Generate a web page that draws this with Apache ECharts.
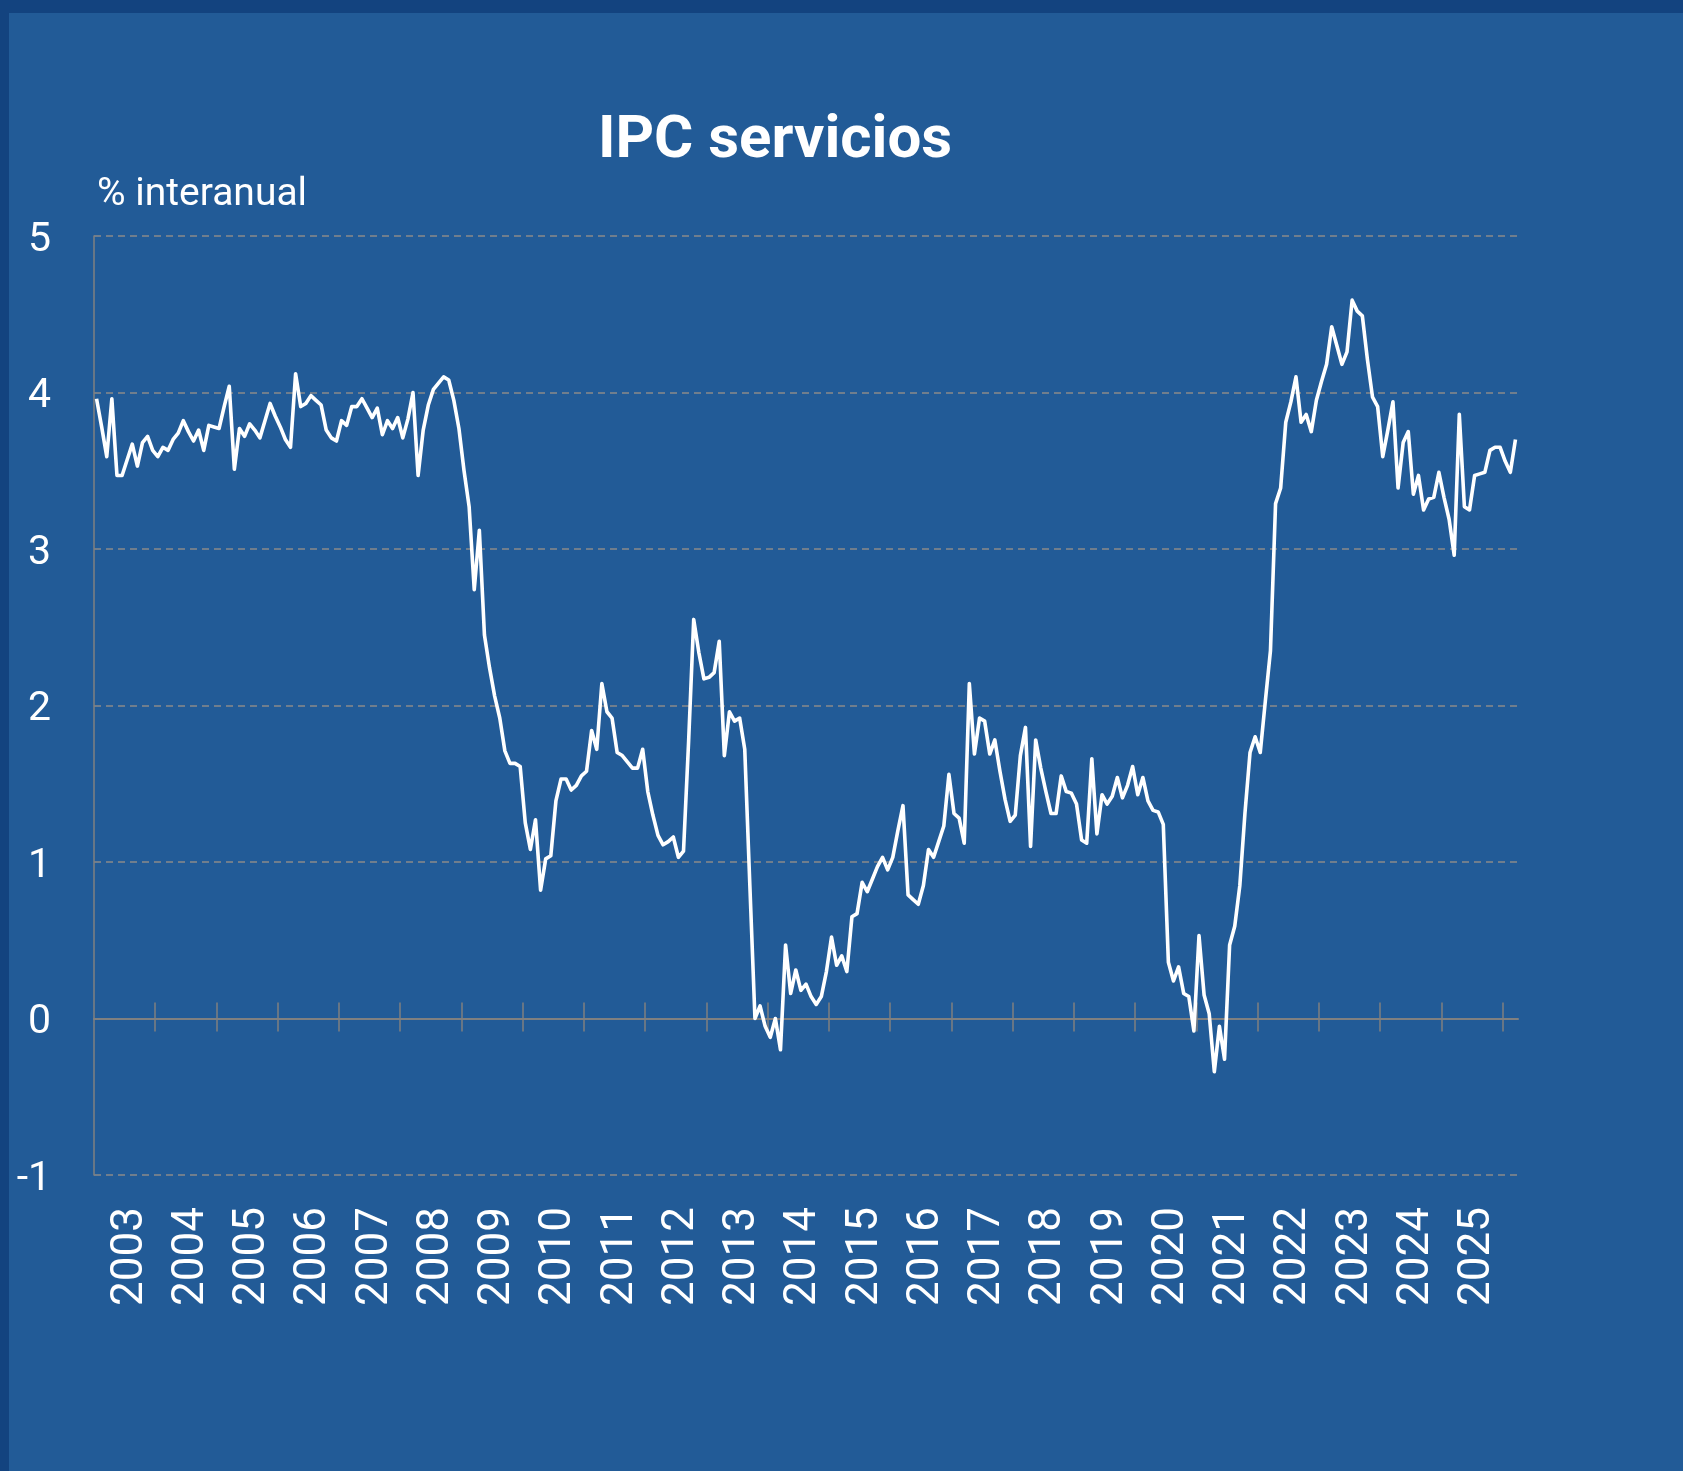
<!DOCTYPE html>
<html>
<head>
<meta charset="utf-8">
<script src="https://cdn.jsdelivr.net/npm/echarts@6/dist/echarts.min.js"></script>
<style>
html,body{margin:0;padding:0;background:#225b97;}
#c{width:1683px;height:1471px;}
</style>
</head>
<body>
<div id="c"></div>
<script>
// ---- data ----
const yearLabels = ['2003','2004','2005','2006','2007','2008','2009','2010','2011','2012','2013','2014',
  '2015','2016','2017','2018','2019','2020','2021','2022','2023','2024','2025'];

const ipcServicios = [
  3.96,3.78,3.59,3.96,3.47,3.47,3.57,3.67,3.53,3.68,3.72,3.63,
  3.59,3.65,3.63,3.70,3.74,3.82,3.75,3.69,3.76,3.63,3.79,3.78,
  3.77,3.91,4.04,3.51,3.77,3.72,3.80,3.76,3.71,3.82,3.93,3.85,
  3.78,3.70,3.65,4.12,3.91,3.93,3.98,3.95,3.92,3.76,3.71,3.69,
  3.82,3.79,3.91,3.91,3.96,3.90,3.84,3.90,3.73,3.82,3.77,3.84,
  3.71,3.83,4.00,3.47,3.76,3.92,4.02,4.06,4.10,4.08,3.95,3.77,
  3.50,3.27,2.74,3.12,2.45,2.24,2.06,1.92,1.71,1.63,1.63,1.61,
  1.25,1.08,1.27,0.82,1.02,1.04,1.39,1.53,1.53,1.46,1.49,1.55,
  1.58,1.84,1.72,2.14,1.96,1.92,1.70,1.68,1.64,1.60,1.60,1.72,
  1.45,1.30,1.17,1.11,1.13,1.16,1.03,1.07,1.77,2.55,2.34,2.17,
  2.18,2.21,2.41,1.68,1.96,1.90,1.92,1.72,0.85,0.00,0.08,-0.05,
  -0.12,0.00,-0.20,0.47,0.16,0.31,0.18,0.22,0.14,0.09,0.14,0.30,
  0.52,0.34,0.40,0.30,0.65,0.67,0.87,0.81,0.89,0.97,1.03,0.95,
  1.03,1.20,1.36,0.79,0.76,0.73,0.85,1.08,1.03,1.13,1.23,1.56,
  1.31,1.28,1.12,2.14,1.69,1.92,1.90,1.69,1.78,1.58,1.40,1.26,
  1.30,1.68,1.86,1.10,1.78,1.60,1.45,1.31,1.31,1.55,1.45,1.44,
  1.37,1.14,1.12,1.66,1.18,1.43,1.37,1.42,1.54,1.41,1.49,1.61,
  1.43,1.54,1.39,1.33,1.32,1.24,0.36,0.24,0.33,0.16,0.14,-0.08,
  0.53,0.15,0.03,-0.34,-0.05,-0.26,0.47,0.59,0.85,1.31,1.70,1.80,
  1.70,2.03,2.35,3.29,3.39,3.81,3.94,4.10,3.81,3.86,3.75,3.95,
  4.07,4.18,4.42,4.30,4.18,4.26,4.59,4.52,4.49,4.21,3.97,3.91,
  3.59,3.76,3.94,3.39,3.68,3.75,3.35,3.47,3.25,3.32,3.33,3.49,
  3.33,3.19,2.96,3.86,3.27,3.25,3.47,3.48,3.49,3.63,3.65,3.65,
  3.56,3.49,3.70
];

const monthNames = ['01','02','03','04','05','06','07','08','09','10','11','12'];
const months = [];
for (let i = 0; i < ipcServicios.length; i++) {
  months.push((2003 + Math.floor(i / 12)) + '-' + monthNames[i % 12]);
}
// year boundaries (start of 2004 ... start of 2026), in category units
const yearTicks = yearLabels.map((_, k) => (k + 1) * 12);

const GRID_LEFT = 94, GRID_RIGHT = 165, GRID_TOP = 236, GRID_BOTTOM = 296;
const AXIS_GRAY = '#808080';

const chart = echarts.init(document.getElementById('c'), null, {renderer: 'canvas', width: 1683, height: 1471});

chart.setOption({
  animation: false,
  backgroundColor: '#225b97',
  textStyle: {fontFamily: 'Roboto'},
  grid: {left: GRID_LEFT, right: GRID_RIGHT, top: GRID_TOP, bottom: GRID_BOTTOM, containLabel: false},
  xAxis: [
    {
      type: 'category', data: months, boundaryGap: true, position: 'bottom',
      axisLine: {show: false, onZero: false},
      axisTick: {show: false},
      splitLine: {show: false},
      axisLabel: {
        interval: (idx) => idx % 12 === 6,
        rotate: 90, margin: 32, color: '#ffffff', fontSize: 44, fontFamily: 'Roboto',
        verticalAlign: 'top', lineHeight: 7,
        formatter: (v, idx) => yearLabels[Math.floor(idx / 12)]
      }
    },
    {
      type: 'value', min: 0, max: ipcServicios.length, position: 'bottom',
      axisLine: {show: true, onZero: true, onZeroAxisIndex: 0, lineStyle: {color: AXIS_GRAY, width: 2}},
      axisTick: {show: true, customValues: yearTicks, length: 13, lineStyle: {color: AXIS_GRAY, width: 1.5}},
      axisLabel: {show: false}, splitLine: {show: false}
    },
    {
      type: 'value', min: 0, max: ipcServicios.length, position: 'bottom',
      axisLine: {show: false, onZero: true, onZeroAxisIndex: 0},
      axisTick: {show: true, inside: true, customValues: yearTicks, length: 16, lineStyle: {color: AXIS_GRAY, width: 1.5}},
      axisLabel: {show: false}, splitLine: {show: false}
    }
  ],
  yAxis: {
    type: 'value', min: -1, max: 5, interval: 1,
    axisLine: {show: true, onZero: false, lineStyle: {color: AXIS_GRAY, width: 1.5}},
    axisTick: {show: false},
    axisLabel: {color: '#ffffff', fontSize: 41, margin: 43, fontFamily: 'Roboto', verticalAlign: 'top', lineHeight: 9},
    splitLine: {show: true, lineStyle: {color: '#8a8a8a', type: [7, 5], width: 1.5}}
  },
  series: [{
    type: 'line', name: 'IPC servicios', data: ipcServicios, xAxisIndex: 0, yAxisIndex: 0,
    symbol: 'none', smooth: false,
    lineStyle: {color: '#ffffff', width: 3.6, join: 'round'}
  }],
  graphic: [
    {type: 'rect', silent: true, shape: {x: 0, y: 0, width: 1683, height: 13}, style: {fill: '#13437f'}},
    {type: 'rect', silent: true, shape: {x: 0, y: 0, width: 9, height: 1471}, style: {fill: '#13437f'}},
    {type: 'text', x: 775, y: 142, style: {text: 'IPC servicios', fill: '#ffffff', fontSize: 60, fontWeight: 'bold', fontFamily: 'Roboto', align: 'center', verticalAlign: 'middle'}},
    {type: 'text', x: 97, y: 195, style: {text: '% interanual', fill: '#ffffff', fontSize: 39, fontFamily: 'Roboto', align: 'left', verticalAlign: 'middle'}}
  ]
});
</script>
</body>
</html>
